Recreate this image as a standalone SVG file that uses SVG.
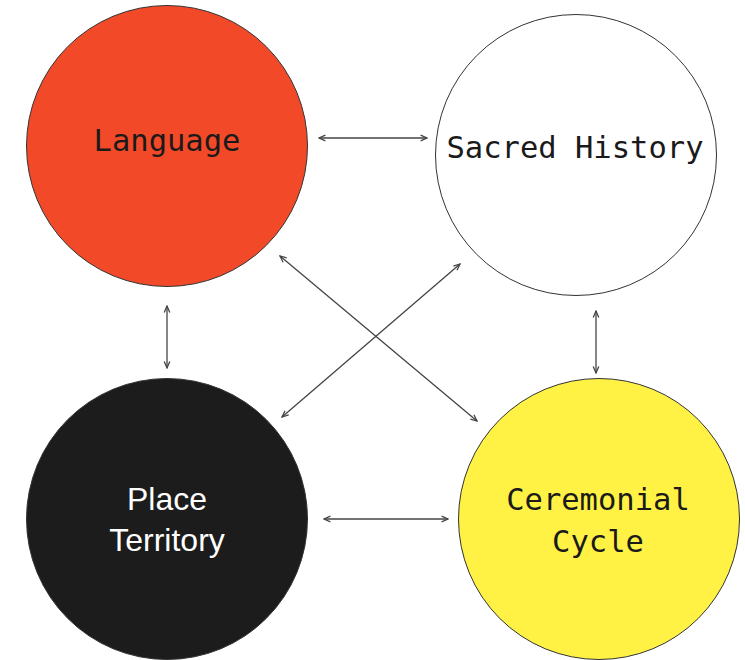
<svg xmlns="http://www.w3.org/2000/svg" width="745" height="660" viewBox="0 0 745 660">
<style>
.node{stroke:#333;stroke-width:1}
.mono{font-family:"DejaVu Sans Mono","Liberation Mono",monospace;font-size:30.5px;text-anchor:middle;fill:#1a1a1a}
.sans{font-family:"Liberation Sans","Noto Sans",sans-serif;font-size:32px;text-anchor:middle;fill:#fff}
.conn{stroke:#444;stroke-width:1.3;fill:none;marker-start:url(#a);marker-end:url(#a)}
</style>
<defs>
<marker id="a" viewBox="0 0 10 10" refX="9" refY="5" markerWidth="8" markerHeight="8" markerUnits="userSpaceOnUse" orient="auto-start-reverse">
<path d="M1,1.5 L9,5 L1,8.5" fill="none" stroke="#444" stroke-width="1.6"/>
</marker>
</defs>
<rect width="745" height="660" fill="#fff"/>
<g id="connectors">
<line class="conn" x1="319" y1="138" x2="427" y2="138"/>
<line class="conn" x1="167" y1="306" x2="167" y2="368"/>
<line class="conn" x1="596" y1="311" x2="596" y2="373"/>
<line class="conn" x1="280" y1="256" x2="477" y2="421"/>
<line class="conn" x1="460" y1="264" x2="282" y2="417"/>
<line class="conn" x1="324" y1="519" x2="448" y2="519"/>
</g>
<g id="language">
<circle class="node" cx="167" cy="146" r="140.5" fill="#F24A28"/>
<text class="mono" x="167" y="151">Language</text>
</g>
<g id="sacred-history">
<circle class="node" cx="576" cy="155" r="140.5" fill="#fff"/>
<text class="mono" x="575" y="158">Sacred History</text>
</g>
<g id="place-territory">
<circle class="node" cx="167" cy="519" r="140.5" fill="#1C1C1C"/>
<text class="sans" x="167" y="510">Place</text>
<text class="sans" x="167" y="551">Territory</text>
</g>
<g id="ceremonial-cycle">
<circle class="node" cx="599" cy="519" r="140.5" fill="#FFF244"/>
<text class="mono" x="598" y="510">Ceremonial</text>
<text class="mono" x="598" y="552">Cycle</text>
</g>
</svg>
